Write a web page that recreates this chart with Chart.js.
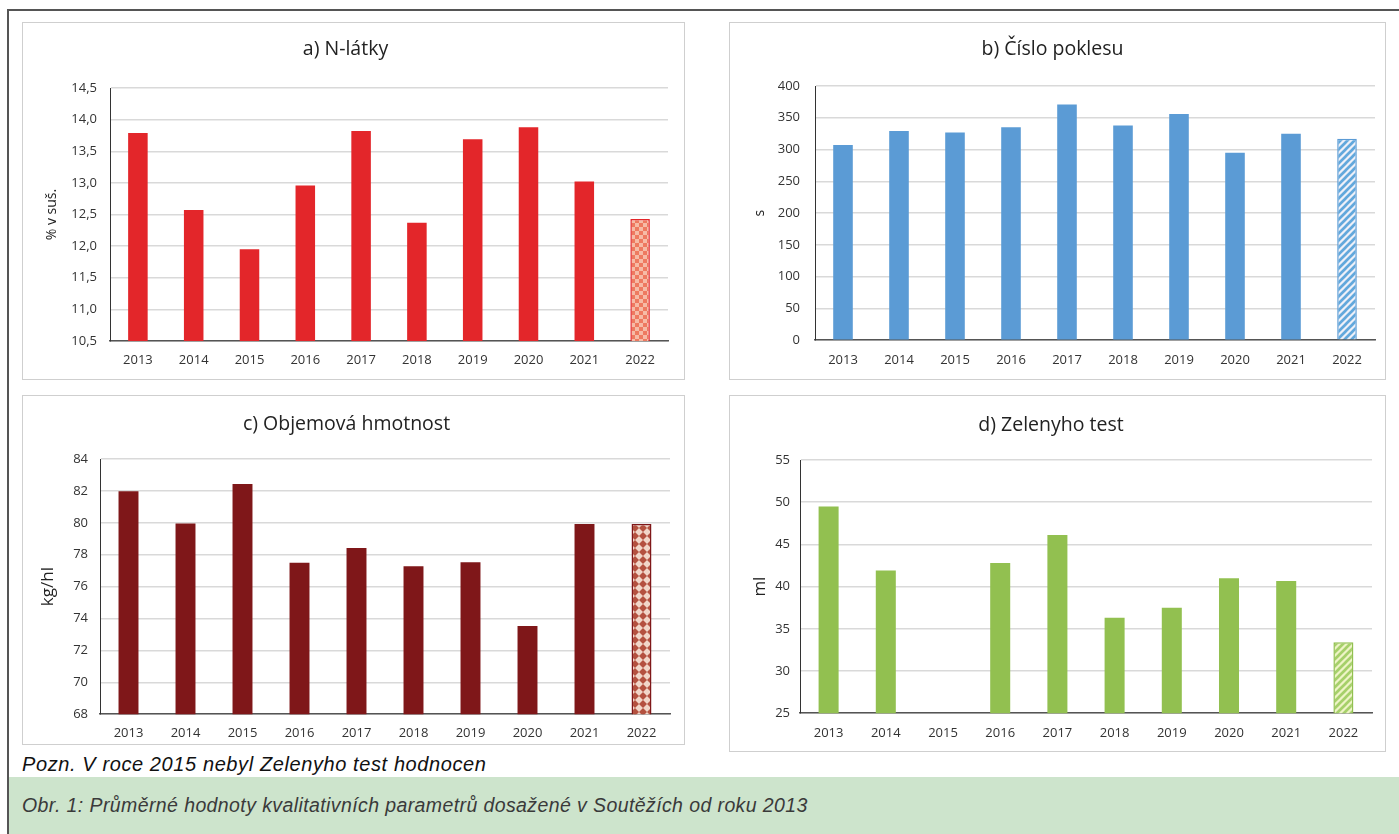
<!DOCTYPE html>
<html lang="cs">
<head>
<meta charset="utf-8">
<script src="https://cdn.jsdelivr.net/npm/chart.js@4.4.1/dist/chart.umd.min.js"></script>
<style>
  html, body { margin: 0; padding: 0; background: #fff; overflow: hidden; }
  body { width: 1399px; height: 834px; position: relative; }
  .frame { position: absolute; left: 7px; top: 9px; width: 1500px; height: 900px;
           border-left: 2px solid #555; border-top: 2px solid #555; }
  .panel { position: absolute; outline: 1.5px solid #cfcfcf; background: #fff; }
  .panel canvas { position: absolute; left: 0; top: 0; }
  .note { position: absolute; left: 22px; top: 753px; font: italic 20px "Liberation Sans", Arial, sans-serif;
          letter-spacing: 0.6px; color: #111; }
  .band { position: absolute; left: 9px; top: 777px; width: 1400px; height: 60px; background: #cde4cc; }
  .caption { position: absolute; left: 22px; top: 794px; font: italic 19.5px "Liberation Sans", Arial, sans-serif;
             letter-spacing: 0.4px; color: #3a3a3a; }
</style>
</head>
<body>
<div class="frame"></div>
<div class="panel" style="left:23px;top:23px;width:661px;height:356px"><canvas id="chartA"></canvas></div>
<div class="panel" style="left:730px;top:23px;width:655px;height:356px"><canvas id="chartB"></canvas></div>
<div class="panel" style="left:23px;top:396px;width:661px;height:348px"><canvas id="chartC"></canvas></div>
<div class="panel" style="left:730px;top:396px;width:655px;height:355px"><canvas id="chartD"></canvas></div>
<div class="note">Pozn. V roce 2015 nebyl Zelenyho test hodnocen</div>
<div class="band"></div>
<div class="caption">Obr. 1: Průměrné hodnoty kvalitativních parametrů dosažené v Soutěžích od roku 2013</div>

<script>
// Data
const years = ['2013', '2014', '2015', '2016', '2017', '2018', '2019', '2020', '2021', '2022'];
const nLatky = [13.79, 12.57, 11.95, 12.96, 13.82, 12.37, 13.69, 13.88, 13.02, 12.43];
const cisloPoklesu = [307, 329, 327, 335, 371, 338, 356, 295, 325, 317];
const objemovaHmotnost = [81.98, 79.95, 82.43, 77.5, 78.42, 77.27, 77.52, 73.53, 79.93, 79.92];
const zelenyhoTest = [49.5, 41.9, null, 42.8, 46.1, 36.3, 37.5, 41.0, 40.65, 33.4];

const FONT = '"Open Sans", "Noto Sans", sans-serif';

// Pattern fills for the 2022 bars
function checkerPattern(c1, c2, size) {
    const cv = document.createElement('canvas');
    cv.width = size * 2; cv.height = size * 2;
    const ctx = cv.getContext('2d');
    ctx.fillStyle = c1; ctx.fillRect(0, 0, size * 2, size * 2);
    ctx.fillStyle = c2;
    ctx.fillRect(0, 0, size, size);
    ctx.fillRect(size, size, size, size);
    return ctx.createPattern(cv, 'repeat');
}

function stripePattern(c1, c2, size) {
    const cv = document.createElement('canvas');
    cv.width = size; cv.height = size;
    const ctx = cv.getContext('2d');
    ctx.fillStyle = c2; ctx.fillRect(0, 0, size, size);
    ctx.strokeStyle = c1;
    ctx.lineWidth = size / 2.6;
    ctx.beginPath();
    ctx.moveTo(-size, size * 2); ctx.lineTo(size * 2, -size);
    ctx.moveTo(-size, size); ctx.lineTo(size, -size);
    ctx.moveTo(0, size * 2); ctx.lineTo(size * 2, 0);
    ctx.stroke();
    return ctx.createPattern(cv, 'repeat');
}

function diagChecker(c1, c2, size) {
    const cv = document.createElement('canvas');
    cv.width = size * 2; cv.height = size * 2;
    const ctx = cv.getContext('2d');
    ctx.fillStyle = c2; ctx.fillRect(0, 0, size * 2, size * 2);
    ctx.fillStyle = c1;
    ctx.beginPath();
    ctx.moveTo(size, 0); ctx.lineTo(size * 2, size); ctx.lineTo(size, size * 2); ctx.lineTo(0, size);
    ctx.closePath();
    ctx.fill();
    return ctx.createPattern(cv, 'repeat');
}

function makeChart(id, values, o) {
    const canvas = document.getElementById(id);
    const box = canvas.parentElement;
    canvas.width = box.clientWidth;
    canvas.height = box.clientHeight;
    const last = values.length - 1;
    const fills = values.map((v, i) => i === last ? o.pattern : o.color);
    const borders = values.map((v, i) => i === last ? o.color : 'rgba(0,0,0,0)');
    const widths = values.map((v, i) => i === last ? 1.5 : 0);

    return new Chart(canvas, {
        type: 'bar',
        data: {
            labels: years,
            datasets: [{
                data: values,
                backgroundColor: fills,
                borderColor: borders,
                borderWidth: widths,
                barPercentage: 0.35,
                categoryPercentage: 1
            }]
        },
        options: {
            responsive: false,
            animation: false,
            layout: { padding: { left: 0, right: o.padRight, top: 0, bottom: o.padBottom } },
            plugins: {
                legend: { display: false },
                tooltip: { enabled: false },
                title: {
                    display: true,
                    text: o.title,
                    color: '#222',
                    font: { family: FONT, size: 19.5, weight: 'normal', lineHeight: 1.2 },
                    padding: { top: o.titleTop, bottom: o.titleBottom }
                }
            },
            scales: {
                x: {
                    grid: { display: false, drawTicks: false },
                    border: { display: true, color: '#555', width: 1.5 },
                    ticks: { color: '#333', padding: o.xPad, font: { family: FONT, size: 13 } }
                },
                y: {
                    min: o.min,
                    max: o.max,
                    afterFit: scale => { scale.width = o.yWidth; },
                    grid: { color: '#d9d9d9', lineWidth: 1.5, drawTicks: false },
                    border: { display: true, color: '#333', width: 1 },
                    ticks: {
                        stepSize: o.step,
                        padding: o.yPad,
                        color: '#333',
                        font: { family: FONT, size: 13 },
                        callback: v => o.decimals ? v.toFixed(o.decimals).replace('.', ',') : String(v)
                    },
                    title: {
                        display: true,
                        text: o.yTitle,
                        color: '#222',
                        font: { family: FONT, size: o.yTitleSize, lineHeight: 1.2 },
                        padding: { top: o.yTitlePad, bottom: 0 }
                    }
                }
            }
        }
    });
}

makeChart('chartA', nLatky, {
    title: 'a) N-látky', yTitle: '% v suš.', yTitleSize: 14, yTitlePad: 20.6,
    color: '#e3262a', pattern: checkerPattern('#f6bba6', '#ee7a60', 4),
    min: 10.5, max: 14.5, step: 0.5, decimals: 1,
    yWidth: 87, yPad: 13, padRight: 16, padBottom: 0.4, xPad: 11,
    titleTop: 14.3, titleBottom: 27.3
});

makeChart('chartB', cisloPoklesu, {
    title: 'b) Číslo poklesu', yTitle: 's', yTitleSize: 14, yTitlePad: 21.6,
    color: '#5b9bd5', pattern: stripePattern('#62a8dc', '#eef0f8', 7),
    min: 0, max: 400, step: 50, decimals: 0,
    yWidth: 85, yPad: 15, padRight: 10, padBottom: -0.4, xPad: 11.8,
    titleTop: 14.3, titleBottom: 25.3
});

makeChart('chartC', objemovaHmotnost, {
    title: 'c) Objemová hmotnost', yTitle: 'kg/hl', yTitleSize: 17, yTitlePad: 15.3,
    color: '#7f1719', pattern: diagChecker('#b4513f', '#f1d6c8', 4),
    min: 68, max: 84, step: 2, decimals: 0,
    yWidth: 77, yPad: 12, padRight: 14, padBottom: -7.4, xPad: 10.8,
    titleTop: 16.3, titleBottom: 23.3
});

makeChart('chartD', zelenyhoTest, {
    title: 'd) Zelenyho test', yTitle: 'ml', yTitleSize: 17, yTitlePad: 19.8,
    color: '#92c050', pattern: stripePattern('#a6d06a', '#eef4c6', 7),
    min: 25, max: 55, step: 5, decimals: 0,
    yWidth: 70, yPad: 10, padRight: 13, padBottom: -1.4, xPad: 11.8,
    titleTop: 17.3, titleBottom: 23.3
});
</script>
</body>
</html>
